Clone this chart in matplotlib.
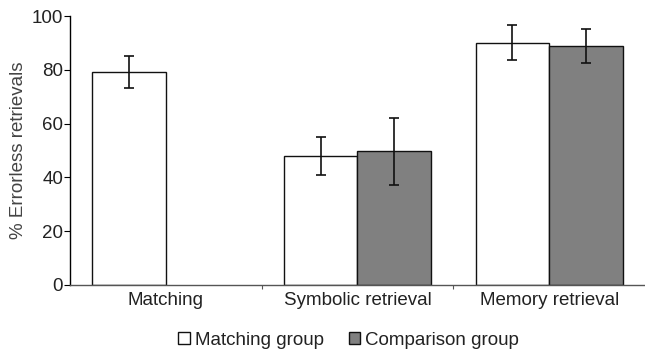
import numpy as np
import matplotlib
matplotlib.use("Agg")
import matplotlib.pyplot as plt

plt.rcParams['font.family'] = ['Liberation Sans', 'DejaVu Sans']

categories = ['Matching', 'Symbolic retrieval', 'Memory retrieval']
matching_group = [79.3, 48.0, 90.0]
matching_err = [6.0, 7.0, 6.5]
comparison_group = [np.nan, 49.7, 89.0]
comparison_err = [np.nan, 12.5, 6.3]
yticks = [0, 20, 40, 60, 80, 100]

fig = plt.figure(figsize=(6.45, 3.49), dpi=100)
ax = fig.add_axes([0.1085, 0.1834, 0.8915, 0.7706])

x = np.arange(len(categories))
w = 0.383
err_kw = dict(ecolor='#111111', capsize=3.5, elinewidth=1.2, capthick=1.2)
ax.bar(x - w / 2, matching_group, w, color='white', edgecolor='#111111',
       linewidth=1.0, yerr=matching_err, error_kw=err_kw, label='Matching group')
ax.bar(x + w / 2, comparison_group, w, color='#808080', edgecolor='#111111',
       linewidth=1.0, yerr=comparison_err, error_kw=err_kw, label='Comparison group')

fs = 13.5
ax.set_xlim(-0.5, 2.5)
ax.set_ylim(0, 100)
ax.set_yticks(yticks)
ax.set_yticklabels([str(t) for t in yticks], fontsize=fs, color='#222222')
ax.set_ylabel('% Errorless retrievals', fontsize=fs, color='#444444', labelpad=3)

# category labels at centers, boundary ticks between categories
ax.set_xticks([0.5, 1.5])
ax.set_xticklabels([])
ax.set_xticks(x, minor=True)
ax.set_xticklabels(categories, minor=True, fontsize=fs, color='#222222')
ax.tick_params(axis='x', which='minor', length=0, pad=5)
ax.tick_params(axis='x', which='major', length=3, direction='out', color='#555555')
ax.tick_params(axis='y', length=4, direction='out', pad=1)

for s in ['top', 'right']:
    ax.spines[s].set_visible(False)
ax.spines['bottom'].set_color('#555555')
ax.spines['bottom'].set_linewidth(1.0)
ax.spines['left'].set_linewidth(1.0)

ax.legend(loc='center', bbox_to_anchor=(0.485, -0.205), ncol=2, frameon=False,
          fontsize=fs, handlelength=0.6, handleheight=0.6, handletextpad=0.3,
          columnspacing=1.3, labelcolor='#222222', borderpad=0)

fig.savefig('out.png', dpi=100)
